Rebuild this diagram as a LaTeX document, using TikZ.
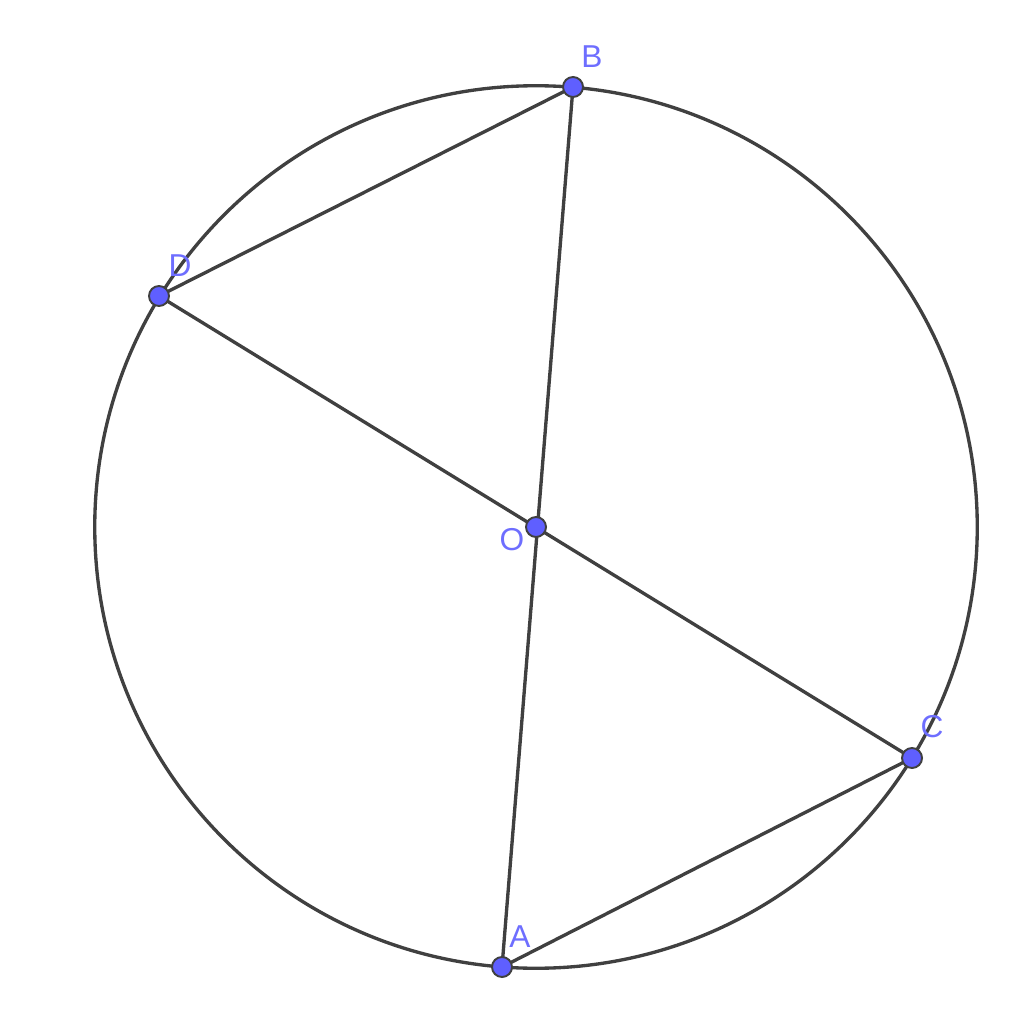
\documentclass[tikz,border=0pt]{standalone}
\usepackage{fontspec}
\setsansfont{Liberation Sans}
\usetikzlibrary{positioning}
\definecolor{ptblue}{RGB}{95,95,255}
\definecolor{lblblue}{RGB}{110,110,255}
\definecolor{segGray}{RGB}{64,64,64}
\tikzset{
    seg/.style={draw=segGray, line width=0.95pt},
    pt/.style={circle, draw=segGray, fill=ptblue, line width=0.55pt, minimum size=0.2cm, inner sep=0pt},
    lbl/.style={text=lblblue, font=\sffamily\fontsize{9}{11}\selectfont, inner sep=0pt}
}
\begin{document}
\begin{tikzpicture}[x=0.01cm, y=-0.01cm]
    \useasboundingbox (0,0) rectangle (1024,1028);
    \coordinate (O) at (536,527);
    \coordinate (B) at (573,87);
    \coordinate (D) at (159,296);
    \coordinate (C) at (912,758);
    \coordinate (A) at (502,967);

    % circle and segments
    \draw [seg] (O) circle [radius=4.41cm];
    \draw [seg] (D) -- (B) -- (A) -- (C) -- (D);

    % points
    \foreach \p in {O,B,D,C,A}
        \node [pt] (p\p) at (\p) {};

    \node [lbl] (lB) at (592,57) {B};
    \node [lbl] (lD) at (180,266) {D};
    \node [lbl] (lO) at (512,540) {O};
    \node [lbl] (lC) at (932,727) {C};
    \node [lbl] (lA) at (520,937) {A};
\end{tikzpicture}
\end{document}
